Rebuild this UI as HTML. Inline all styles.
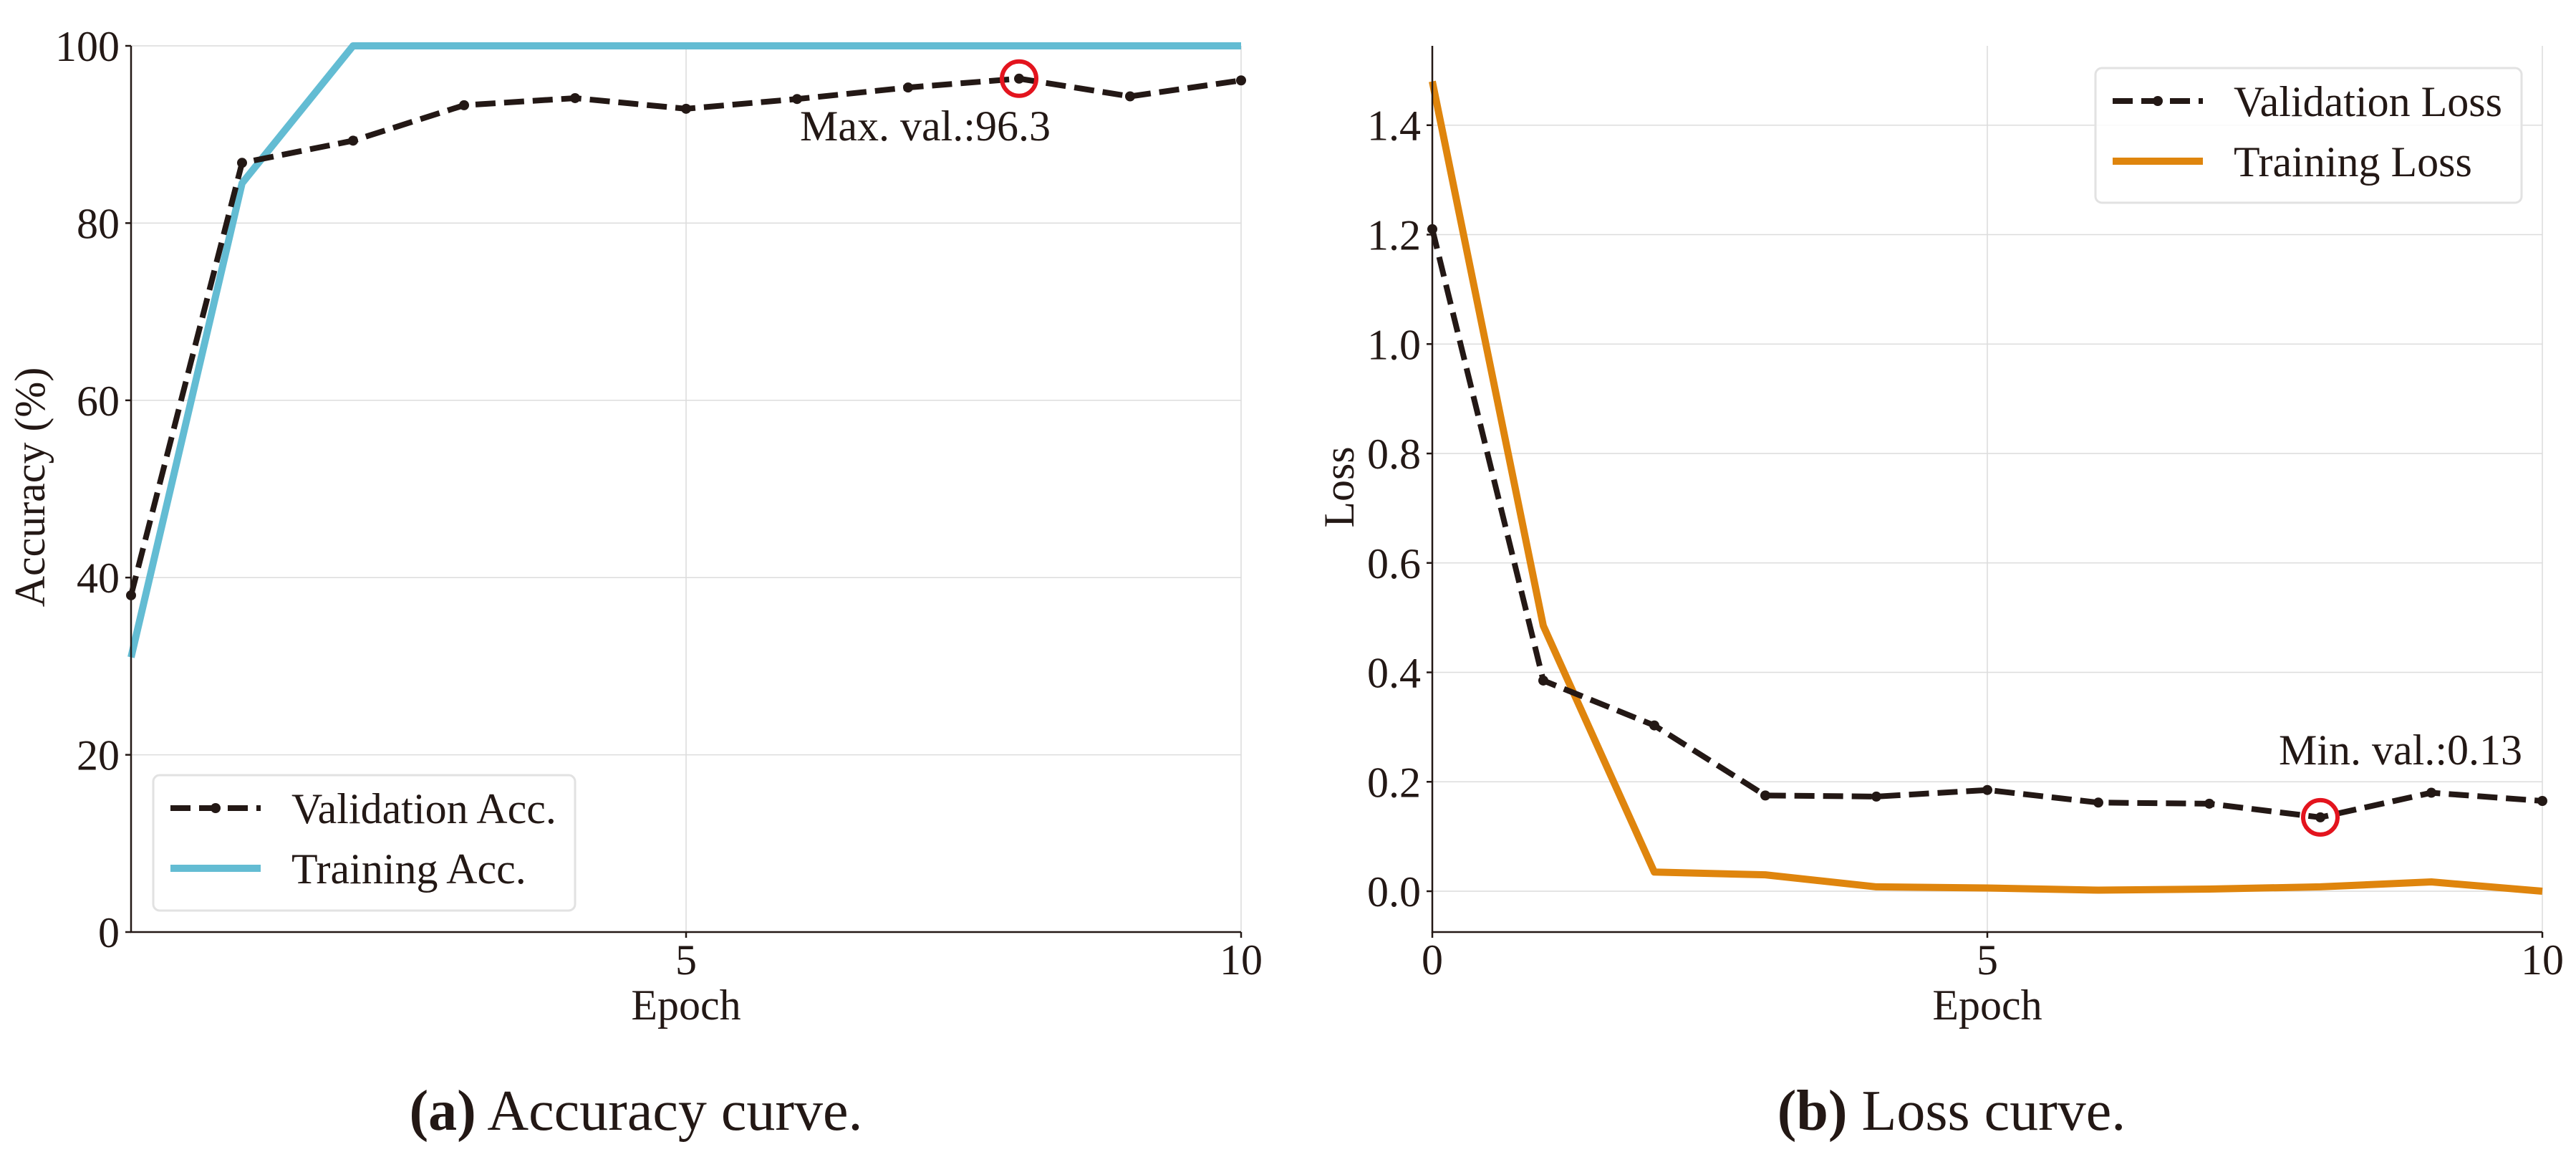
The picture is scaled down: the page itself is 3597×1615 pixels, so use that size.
<!DOCTYPE html>
<html><head><meta charset="utf-8"><style>
html,body{margin:0;padding:0;background:#fff;}
svg{display:block;font-family:"Liberation Serif",serif;}
</style></head><body>
<svg id="fig" width="3597" height="1615" xmlns="http://www.w3.org/2000/svg"></svg>
<script>
const epochs=[0,1,2,3,4,5,6,7,8,9,10];
const valAcc=[38,86.8,89.3,93.3,94.1,92.9,94.0,95.3,96.3,94.3,96.1];
const trainAcc=[31,84.5,100,100,100,100,100,100,100,100,100];
const valLoss=[1.21,0.385,0.303,0.175,0.173,0.185,0.162,0.160,0.135,0.180,0.165];
const trainLoss=[1.48,0.485,0.035,0.030,0.008,0.006,0.002,0.004,0.008,0.017,0.0];
const accYTicks=[0,20,40,60,80,100];
const accXTicks=[5,10];
const lossYTicks=[0.0,0.2,0.4,0.6,0.8,1.0,1.2,1.4];
const lossXTicks=[0,5,10];

const NS="http://www.w3.org/2000/svg";
const svg=document.getElementById('fig');
const INK="#231815";
function mk(tag,attrs,parent){const e=document.createElementNS(NS,tag);for(const k in attrs)e.setAttribute(k,attrs[k]);(parent||svg).appendChild(e);return e;}
function txt(s,attrs,parent){const e=mk('text',attrs,parent);e.textContent=s;return e;}

function panel(o){
  const g=mk('g',{});
  
  
  const X=v=>o.x0+(v-o.xmin)/(o.xmax-o.xmin)*(o.x1-o.x0);
  const Y=v=>o.yb-(v-o.ymin)/(o.ymax-o.ymin)*(o.yb-o.yt);
  // grid
  o.yTicks.forEach(t=>{const l=mk('line',{x1:o.x0,x2:o.x1,y1:Y(t),y2:Y(t),stroke:'#dcdcdc','stroke-width':1.5},g);
    });
  o.xTicks.forEach(t=>{const l=mk('line',{x1:X(t),x2:X(t),y1:o.yt,y2:o.yb,stroke:'#dcdcdc','stroke-width':1.5},g);
    });
  // series
  const pts=a=>epochs.map((e,i)=>X(e)+','+Y(a[i])).join(' ');
  const tr=mk('polyline',{points:pts(o.train),fill:'none',stroke:o.trainColor,'stroke-width':10,'stroke-linejoin':'round'},g);
  
  const vl=mk('polyline',{points:pts(o.val),fill:'none',stroke:INK,'stroke-width':8,'stroke-dasharray':'28 12'},g);
  
  epochs.forEach((e,i)=>{const c=mk('circle',{cx:X(e),cy:Y(o.val[i]),r:7,fill:INK},g);
    });
  // highlight
  const hi=o.hiIdx;
  const hc=mk('circle',{cx:X(epochs[hi]),cy:Y(o.val[hi]),r:24,fill:'none',stroke:'#e3141e','stroke-width':6},g);
  
  const at=txt(o.hiText,{x:o.hiX,y:o.hiY,'font-size':60,fill:INK},g);
  
  // axes
  const ax=mk('line',{x1:o.x0,x2:o.x0,y1:o.yt,y2:o.yb+1,stroke:INK,'stroke-width':2.5},g);
  
  const bx=mk('line',{x1:o.x0-1,x2:o.x1,y1:o.yb,y2:o.yb,stroke:INK,'stroke-width':2.5},g);
  
  o.yTicks.forEach(t=>{mk('line',{x1:o.x0-8,x2:o.x0,y1:Y(t),y2:Y(t),stroke:INK,'stroke-width':2.5},g);
    const l=txt(o.yFmt(t),{x:o.x0-16,y:Y(t)+21,'font-size':60,'text-anchor':'end',fill:INK},g);
    });
  o.xTicks.forEach(t=>{mk('line',{x1:X(t),x2:X(t),y1:o.yb,y2:o.yb+8,stroke:INK,'stroke-width':2.5},g);
    const l=txt(String(t),{x:X(t),y:o.yb+59,'font-size':60,'text-anchor':'middle',fill:INK},g);
    });
  const xl=txt('Epoch',{x:(o.x0+o.x1)/2,y:1423,'font-size':60,'text-anchor':'middle',fill:INK},g);
  
  const yl=txt(o.yLabel,{x:0,y:0,'font-size':60,'text-anchor':'middle',fill:INK,transform:`translate(${o.yLabelX},680) rotate(-90)`},g);
  
  // legend
  const L=o.leg;
  const lg=mk('g',{},g);
  
  mk('rect',{x:L.x,y:L.y,width:L.w,height:L.h,rx:9,fill:'#fff','fill-opacity':0.85,stroke:'#e2e2e2','stroke-width':3},lg);
  const r1=L.y+46,r2=L.y+130;
  mk('line',{x1:L.x+24,x2:L.x+150,y1:r1,y2:r1,stroke:INK,'stroke-width':8,'stroke-dasharray':'28 12'},lg);
  mk('circle',{cx:L.x+87,cy:r1,r:7,fill:INK},lg);
  const t1=txt(o.valName,{x:L.x+193,y:r1+21,'font-size':60,fill:INK},lg);
  
  mk('line',{x1:L.x+24,x2:L.x+150,y1:r2,y2:r2,stroke:o.trainColor,'stroke-width':10},lg);
  const t2=txt(o.trainName,{x:L.x+193,y:r2+21,'font-size':60,fill:INK},lg);
  
  // caption
  const cap=txt('',{x:o.capX,y:1577,'font-size':80,'text-anchor':'middle',fill:INK},g);
  
  const b=mk('tspan',{'font-weight':'bold'},cap);b.textContent=o.capTag;
  const r=mk('tspan',{},cap);r.textContent=' '+o.capText;
}

panel({name:'accuracy-panel',x0:183,x1:1733,yt:64,yb:1301,xmin:0,xmax:10,ymin:0,ymax:100,
  yTicks:accYTicks,xTicks:accXTicks,yFmt:t=>String(t),val:valAcc,train:trainAcc,trainColor:'#63bcd3',
  hiIdx:8,hiText:'Max. val.:96.3',hiX:1117,hiY:196,yLabel:'Accuracy (%)',yLabelX:62,
  leg:{x:214,y:1082,w:589,h:189},valName:'Validation Acc.',trainName:'Training Acc.',
  capX:888,capTag:'(a)',capText:'Accuracy curve.'});
panel({name:'loss-panel',x0:2000,x1:3550,yt:64,yb:1301,xmin:0,xmax:10,ymin:-0.0746,ymax:1.545,
  yTicks:lossYTicks,xTicks:lossXTicks,yFmt:t=>t.toFixed(1),val:valLoss,train:trainLoss,trainColor:'#df850d',
  hiIdx:8,hiText:'Min. val.:0.13',hiX:3182,hiY:1067,yLabel:'Loss',yLabelX:1890,
  leg:{x:2926,y:95,w:595,h:188},valName:'Validation Loss',trainName:'Training Loss',
  capX:2725,capTag:'(b)',capText:'Loss curve.'});
</script>
</body></html>
